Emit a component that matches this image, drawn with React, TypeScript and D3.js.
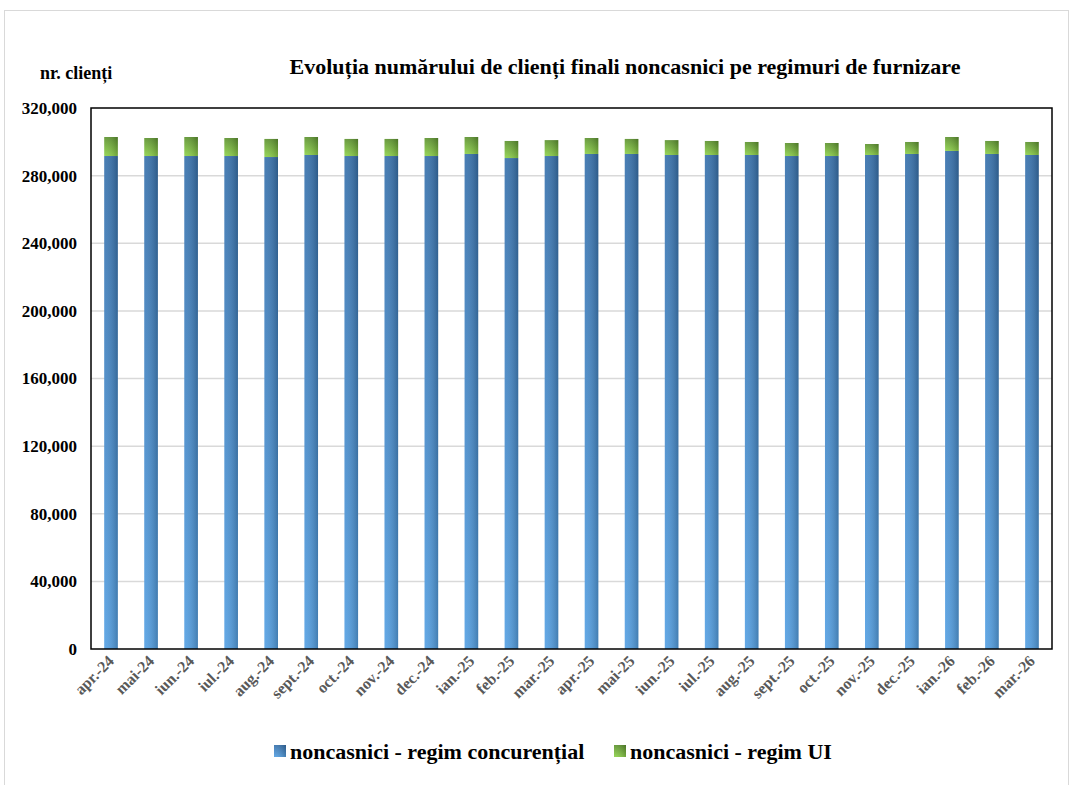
import React from 'react';
import * as d3 from 'd3';

const months = [
  'apr.-24', 'mai-24', 'iun.-24', 'iul.-24', 'aug.-24', 'sept.-24', 'oct.-24', 'nov.-24',
  'dec.-24', 'ian.-25', 'feb.-25', 'mar.-25', 'apr.-25', 'mai-25', 'iun.-25', 'iul.-25',
  'aug.-25', 'sept.-25', 'oct.-25', 'nov.-25', 'dec.-25', 'ian.-26', 'feb.-26', 'mar.-26',
];

const concurential = [
  291600, 291600, 291600, 291600, 291000, 292200, 291600, 291600,
  291600, 292800, 290400, 291600, 292800, 292800, 292200, 292200,
  292200, 291600, 291600, 292200, 292800, 294600, 292800, 292200,
];

const regimUI = [
  11250, 10650, 11250, 10650, 10700, 10650, 10100, 10100,
  10650, 10050, 10100, 9400, 9450, 8900, 8800, 8300,
  7700, 7700, 7700, 6500, 7100, 8250, 7700, 7700,
];

const yTicks = [0, 40000, 80000, 120000, 160000, 200000, 240000, 280000, 320000];

const seriesNames = ['noncasnici - regim concurențial', 'noncasnici - regim UI'];

const FONT = '"Liberation Serif", "Times New Roman", serif';

const txt = (size: number, color = '#000') => ({ fontFamily: FONT, fontWeight: 'bold' as const, fontSize: size, fill: color });

export default function App() {
  const W = 1074;
  const H = 785;
  const left = 91, right = 1052, top = 108, bottom = 649;

  const x = d3.scaleBand<string>().domain(months).range([left, right]).paddingInner(0.66).paddingOuter(0.33);
  const y = d3.scaleLinear().domain([0, 320000]).range([bottom, top]);
  const fmt = d3.format(',');
  const bw = x.bandwidth();

  return (
    <svg width={W} height={H} style={{ position: 'absolute', left: 0, top: 0, background: '#fff' }}>
      <defs>
        <linearGradient id="blueV" x1="0" y1="0" x2="0" y2="1">
          <stop offset="0" stopColor="#3872ad" />
          <stop offset="1" stopColor="#55a1e4" />
        </linearGradient>
        <linearGradient id="greenV" x1="0" y1="0" x2="0" y2="1">
          <stop offset="0" stopColor="#5e9430" />
          <stop offset="1" stopColor="#8fd34b" />
        </linearGradient>
        <linearGradient id="shadeH" x1="0" y1="0" x2="1" y2="0">
          <stop offset="0" stopColor="#ffffff" stopOpacity="0.08" />
          <stop offset="1" stopColor="#000000" stopOpacity="0.22" />
        </linearGradient>
      </defs>

      <rect x={4.5} y={10.5} width={1064} height={800} fill="#fff" stroke="#d9d9d9" strokeWidth={1} />

      {yTicks.filter(t => t > 0 && t < 320000).map(t => (
        <line key={t} x1={left} x2={right} y1={y(t)} y2={y(t)} stroke="#d9d9d9" strokeWidth={1.5} />
      ))}

      {months.map((m, i) => {
        const c = concurential[i];
        const u = regimUI[i];
        const bx = x(m) as number;
        return (
          <g key={m}>
            <rect x={bx} y={y(c)} width={bw} height={y(0) - y(c)} fill="url(#blueV)" />
            <rect x={bx} y={y(c)} width={bw} height={y(0) - y(c)} fill="url(#shadeH)" />
            <rect x={bx} y={y(c + u)} width={bw} height={y(c) - y(c + u)} fill="url(#greenV)" />
            <rect x={bx} y={y(c + u)} width={bw} height={y(c) - y(c + u)} fill="url(#shadeH)" />
          </g>
        );
      })}

      <rect x={left} y={top} width={right - left} height={bottom - top} fill="none" stroke="#000" strokeWidth={1.5} />

      {yTicks.map(t => (
        <text key={t} x={77} y={y(t)} dy="0.35em" textAnchor="end" style={txt(17)}>
          {fmt(t)}
        </text>
      ))}

      {months.map(m => {
        const cx = (x(m) as number) + bw / 2 + 4;
        const cy = 662;
        return (
          <text key={m} x={cx} y={cy} transform={`rotate(-45 ${cx} ${cy})`} textAnchor="end" style={txt(16, '#595959')}>
            {m}
          </text>
        );
      })}

      <text x={40} y={79} style={txt(18)}>nr. clienți</text>
      <text x={625} y={74} textAnchor="middle" style={txt(22)}>
        Evoluția numărului de clienți finali noncasnici pe regimuri de furnizare
      </text>

      <g>
        <rect x={274} y={745} width={12} height={12} fill="url(#blueV)" />
        <rect x={274} y={745} width={12} height={12} fill="url(#shadeH)" />
        <text x={290} y={759} style={txt(22)}>{seriesNames[0]}</text>
        <rect x={614} y={745} width={12} height={12} fill="url(#greenV)" />
        <rect x={614} y={745} width={12} height={12} fill="url(#shadeH)" />
        <text x={630} y={759} style={txt(22)}>{seriesNames[1]}</text>
      </g>
    </svg>
  );
}
